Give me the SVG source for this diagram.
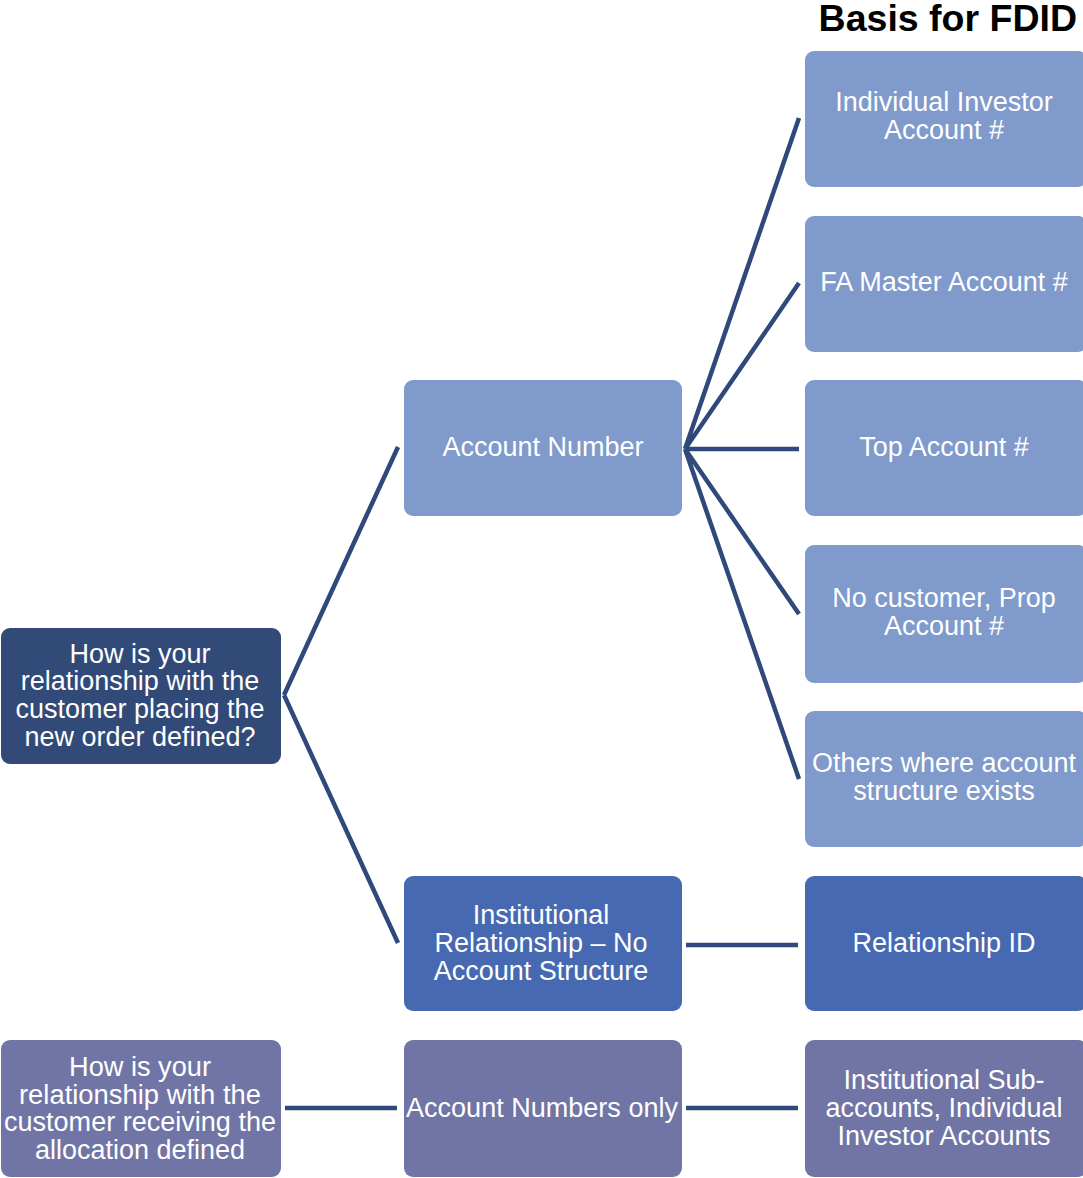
<svg xmlns="http://www.w3.org/2000/svg" width="1083" height="1178" viewBox="0 0 1083 1178">
<style>
.t{font-family:"Liberation Sans",Arial,sans-serif;font-size:27px;fill:#fff;text-anchor:middle}
.c{stroke:#2f4a7a;stroke-width:4.5;fill:none}
.l1{fill:#7f9acb}
.d{fill:#314a78}
.m{fill:#4769b1}
.p{fill:#7175a6}
</style>
<rect width="1083" height="1178" fill="#fff"/>
<text x="1077" y="31" font-family="Liberation Sans,Arial,sans-serif" font-size="37.5" font-weight="bold" text-anchor="end" fill="#000">Basis for FDID</text>
<g id="connectors">
<path class="c" d="M284 695L398 447M284 695L398 943"/>
<path class="c" d="M685 449L799 118M685 449L799 283M685 449L799 449M685 449L799 614M685 449L799 779"/>
<path class="c" d="M686 945H798M285 1108H397M686 1108H798"/>
</g>
<g id="root1"><rect class="d" x="1" y="628" width="280" height="136" rx="9"/>
<text class="t"><tspan x="140" y="663">How is your</tspan><tspan x="140" y="690">relationship with the</tspan><tspan x="140" y="718">customer placing the</tspan><tspan x="140" y="746">new order defined?</tspan></text></g>
<g id="accnum"><rect class="l1" x="404" y="380" width="278" height="136" rx="9"/>
<text class="t" x="543" y="456">Account Number</text></g>
<g id="inst"><rect class="m" x="404" y="876" width="278" height="135" rx="9"/>
<text class="t"><tspan x="541" y="924">Institutional</tspan><tspan x="541" y="952">Relationship – No</tspan><tspan x="541" y="980">Account Structure</tspan></text></g>
<g id="n1"><rect class="l1" x="805" y="51" width="282" height="136" rx="9"/>
<text class="t"><tspan x="944" y="111">Individual Investor</tspan><tspan x="944" y="139">Account #</tspan></text></g>
<g id="n2"><rect class="l1" x="805" y="216" width="282" height="136" rx="9"/>
<text class="t" x="944" y="291">FA Master Account #</text></g>
<g id="n3"><rect class="l1" x="805" y="380" width="282" height="136" rx="9"/>
<text class="t" x="944" y="456">Top Account #</text></g>
<g id="n4"><rect class="l1" x="805" y="545" width="282" height="138" rx="9"/>
<text class="t"><tspan x="944" y="607">No customer, Prop</tspan><tspan x="944" y="635">Account #</tspan></text></g>
<g id="n5"><rect class="l1" x="805" y="711" width="282" height="136" rx="9"/>
<text class="t"><tspan x="944" y="772">Others where account</tspan><tspan x="944" y="800">structure exists</tspan></text></g>
<g id="n6"><rect class="m" x="805" y="876" width="282" height="135" rx="9"/>
<text class="t" x="944" y="952">Relationship ID</text></g>
<g id="root2"><rect class="p" x="1" y="1040" width="280" height="137" rx="9"/>
<text class="t"><tspan x="140" y="1076" textLength="142" lengthAdjust="spacingAndGlyphs">How is your</tspan><tspan x="140" y="1104" textLength="242" lengthAdjust="spacingAndGlyphs">relationship with the</tspan><tspan x="140" y="1131" textLength="272" lengthAdjust="spacingAndGlyphs">customer receiving the</tspan><tspan x="140" y="1159" textLength="210" lengthAdjust="spacingAndGlyphs">allocation defined</tspan></text></g>
<g id="accnums"><rect class="p" x="404" y="1040" width="278" height="137" rx="9"/>
<text class="t" x="542" y="1117" textLength="272" lengthAdjust="spacingAndGlyphs">Account Numbers only</text></g>
<g id="n7"><rect class="p" x="805" y="1040" width="282" height="137" rx="9"/>
<text class="t"><tspan x="944" y="1089">Institutional Sub-</tspan><tspan x="944" y="1117">accounts, Individual</tspan><tspan x="944" y="1145">Investor Accounts</tspan></text></g>
</svg>
